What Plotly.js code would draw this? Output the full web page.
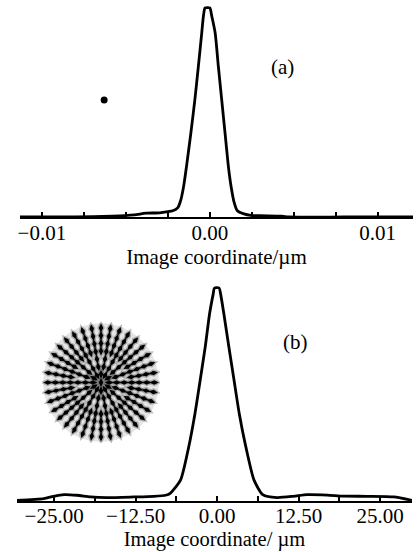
<!DOCTYPE html>
<html>
<head>
<meta charset="utf-8">
<script src="https://cdn.plot.ly/plotly-3.0.1.min.js"></script>
<style>html,body{margin:0;padding:0;background:#fff}#chart{width:417px;height:552px}</style>
</head>
<body>
<div id="chart"></div>
<script>
// ---- Panel (a): profile of the point image (image coordinate in µm) ----
var xA = [-0.0113, -0.0080, -0.0058, -0.0045, -0.0038, -0.0030, -0.0026, -0.0022, -0.00190, -0.00173, -0.00155, -0.00139, -0.00113, -0.00089, -0.00068, -0.00048, -0.00038, -0.00028, 0.00000, 0.00012, 0.00032, 0.00051, 0.00071, 0.00091, 0.00111, 0.00128, 0.00145, 0.00164, 0.00204, 0.00244, 0.0030, 0.0043, 0.0047, 0.0080, 0.0121];
var yA = [0, 0, 0.004, 0.010, 0.018, 0.020, 0.025, 0.030, 0.045, 0.08, 0.15, 0.24, 0.40, 0.56, 0.72, 0.88, 0.96, 1.0, 1.0, 0.96, 0.88, 0.72, 0.56, 0.40, 0.24, 0.14, 0.07, 0.03, 0.015, 0.008, 0.006, 0.004, 0, 0, 0];
var spotAx = [-0.00629];
var spotAy = [0.56];
var tickA = [-0.01, -0.0075, -0.005, -0.0025, 0, 0.0025, 0.005, 0.0075, 0.01];
var tickAText = ['\u22120.01', '', '', '', '0.00', '', '', '', '0.01'];

// ---- Panel (b): profile of the extended image ----
var xB = [-30.7, -26.6, -25.1, -23.5, -21.5, -19.4, -16.9, -12.8, -9.7, -7.9, -7.2, -5.6, -4.35, -3.40, -2.60, -1.82, -1.15, -0.61, -0.40, 0.30, 0.55, 1.03, 1.80, 2.60, 3.40, 4.40, 5.65, 7.0, 9.2, 11.7, 13.8, 16.9, 19.4, 23.0, 27.1, 29.9];
var yB = [0.003, 0.011, 0.022, 0.030, 0.027, 0.019, 0.016, 0.019, 0.022, 0.027, 0.036, 0.099, 0.255, 0.41, 0.567, 0.724, 0.88, 0.97, 1.0, 1.0, 0.97, 0.88, 0.724, 0.567, 0.41, 0.255, 0.099, 0.03, 0.016, 0.022, 0.03, 0.028, 0.023, 0.022, 0.019, 0.003];
var tickB = [-25, -18.75, -12.5, -6.25, 0, 6.25, 12.5, 18.75, 25];
var tickBText = ['\u221225.00', '', '\u221212.50', '', '0.00', '', '12.50', '', '25.00'];

// ---- Inset: spot diagram (rays on spokes and rings, normalised radius) ----
var spokeAngles = [0, 10, 20, 30, 40, 50, 60, 70, 80, 90, 100, 110, 120, 130, 140, 150, 160, 170, 180, 190, 200, 210, 220, 230, 240, 250, 260, 270, 280, 290, 300, 310, 320, 330, 340, 350];
var ringRadii = [0.14, 0.27, 0.40, 0.53, 0.66, 0.79, 0.92];
var ringSpokeStep = [3, 2, 2, 1, 1, 1, 1];

var spotX = [0], spotY = [0], spotAng = [0];
ringRadii.forEach(function (r, i) {
  spokeAngles.forEach(function (a, k) {
    if (k % ringSpokeStep[i] !== 0) return;
    spotX.push(r * Math.cos(a * Math.PI / 180));
    spotY.push(r * Math.sin(a * Math.PI / 180));
    spotAng.push(90 - a);
  });
});

var serif = 'Liberation Serif, Times New Roman, serif';

var traces = [
  {x: xA, y: yA, xaxis: 'x', yaxis: 'y', mode: 'lines', line: {color: '#000', width: 2.8, shape: 'spline', smoothing: 0.6}, hoverinfo: 'skip', showlegend: false},
  {x: spotAx, y: spotAy, xaxis: 'x', yaxis: 'y', mode: 'markers', marker: {color: '#000', size: 7}, showlegend: false},
  {x: xB, y: yB, xaxis: 'x2', yaxis: 'y2', mode: 'lines', line: {color: '#000', width: 2.8, shape: 'spline', smoothing: 0.6}, hoverinfo: 'skip', showlegend: false},
  {x: spotX, y: spotY, xaxis: 'x3', yaxis: 'y3', mode: 'markers', marker: {symbol: 'diamond-tall', angle: spotAng, color: 'rgba(40,40,40,0.3)', size: 11}, showlegend: false},
  {x: spotX, y: spotY, xaxis: 'x3', yaxis: 'y3', mode: 'markers', marker: {symbol: 'diamond-tall', angle: spotAng, color: '#000', size: 6.5}, showlegend: false}
];

var axisCommon = {
  showline: true, linecolor: '#000', linewidth: 2,
  ticks: 'inside', ticklen: 5, tickwidth: 2, tickcolor: '#000',
  showgrid: false, zeroline: false,
  tickmode: 'array', ticklabelstandoff: -4,
  tickfont: {family: serif, size: 21, color: '#000'}
};

var layout = {
  width: 417, height: 552,
  margin: {l: 0, r: 0, t: 0, b: 0},
  paper_bgcolor: '#fff', plot_bgcolor: 'rgba(0,0,0,0)',
  showlegend: false,
  xaxis: Object.assign({}, axisCommon, {
    domain: [0.048, 0.9904], range: [-0.0113, 0.0121], anchor: 'y',
    tickvals: tickA, ticktext: tickAText,
    title: {text: 'Image coordinate/\u00b5m', font: {family: serif, size: 21, color: '#000'}, standoff: 0}
  }),
  yaxis: {domain: [0.6069, 1], range: [0, 1.038], visible: false, anchor: 'x'},
  xaxis2: Object.assign({}, axisCommon, {
    domain: [0.0408, 0.988], range: [-30.7, 29.9], anchor: 'y2',
    tickvals: tickB, ticktext: tickBText,
    ticklabelstandoff: -5,
    title: {text: 'Image coordinate/ \u00b5m', font: {family: serif, size: 20.5, color: '#000'}, standoff: 0}
  }),
  yaxis2: {domain: [0.0924, 0.4928], range: [0, 1.0376], visible: false, anchor: 'x2'},
  xaxis3: {domain: [0.1007, 0.3837], range: [-1.02, 1.02], visible: false, anchor: 'y3'},
  yaxis3: {domain: [0.1975, 0.4167], range: [-1.02, 1.02], visible: false, anchor: 'x3'},
  shapes: [
    {type: 'circle', xref: 'x3', yref: 'y3', x0: -1, x1: 1, y0: -1, y1: 1, fillcolor: 'rgba(0,0,0,0.10)', line: {width: 0}, layer: 'below'}
  ],
  annotations: [
    {text: '(a)', xref: 'paper', yref: 'paper', x: 0.71, y: 0.904, showarrow: false, font: {family: serif, size: 21, color: '#000'}},
    {text: '(b)', xref: 'paper', yref: 'paper', x: 0.743, y: 0.380, showarrow: false, font: {family: serif, size: 21, color: '#000'}}
  ]
};

Plotly.newPlot('chart', traces, layout, {staticPlot: true, displayModeBar: false});
</script>
</body>
</html>
